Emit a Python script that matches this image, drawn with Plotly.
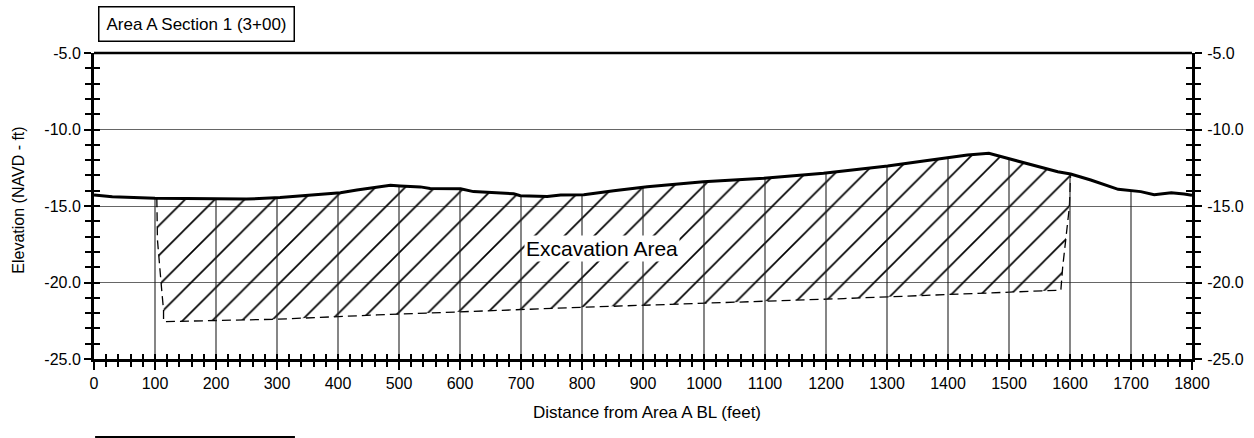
import numpy as np
import plotly.graph_objects as go

# ---------------- data ----------------
GROUND_X = [0, 30, 100, 200, 250, 305, 350, 404, 431, 486, 502, 535, 551, 601, 622, 666,
            688, 699, 743, 765, 803, 852, 907, 999, 1098, 1196, 1241, 1301, 1360, 1405,
            1432, 1467, 1492, 1524, 1580, 1601, 1634, 1679, 1700, 1716, 1738, 1766, 1787, 1800]
GROUND_Y = [-14.28, -14.40, -14.50, -14.56, -14.55, -14.45, -14.30, -14.13, -13.95, -13.65,
            -13.69, -13.75, -13.85, -13.87, -14.06, -14.13, -14.20, -14.33, -14.38, -14.28,
            -14.27, -14.00, -13.74, -13.41, -13.19, -12.86, -12.67, -12.39, -12.06, -11.82,
            -11.67, -11.56, -11.82, -12.17, -12.76, -12.91, -13.30, -13.91, -14.00, -14.06,
            -14.26, -14.13, -14.22, -14.30]

# excavation limits: left edge, bottom, right edge (top follows the ground)
EXC_EDGE_X = [103, 104, 111, 114, 114, 300, 464, 800, 1229, 1585, 1588, 1593, 1599, 1601]
EXC_EDGE_Y = [-14.50, -17.2, -20.5, -21.8, -22.56, -22.40, -22.12, -21.62, -21.05, -20.50,
              -19.0, -17.0, -15.05, -12.91]

STATION_LINES_X = [100, 200, 300, 400, 500, 600, 700, 800, 900, 1000, 1100, 1200,
                   1300, 1400, 1500, 1600, 1700]

X_TICKS = list(range(0, 1801, 100))
X_TICK_LABELS = [str(v) for v in X_TICKS]
Y_TICKS = [-25, -20, -15, -10, -5]
Y_TICK_LABELS = ["-25.0", "-20.0", "-15.0", "-10.0", "-5.0"]

X_RANGE = [0, 1800]
Y_RANGE = [-25, -5]

TITLE_TEXT = "Area A Section 1 (3+00)"
LABEL_TEXT = "Excavation Area"
LABEL_POS = (832, -17.75)
X_TITLE = "Distance from Area A BL (feet)"
Y_TITLE = "Elevation (NAVD - ft)"

FONT = "Liberation Sans, Arial, sans-serif"

# ---------------- geometry from data ----------------
gx = np.array(GROUND_X, float)
gy = np.array(GROUND_Y, float)
x_left, x_right = EXC_EDGE_X[0], EXC_EDGE_X[-1]
inner = (gx > x_left) & (gx < x_right)
top_x = np.concatenate([[x_right], gx[inner][::-1], [x_left]])
top_y = np.interp(top_x, gx, gy)
poly_x = list(EXC_EDGE_X) + list(top_x)
poly_y = list(EXC_EDGE_Y) + list(top_y)

vx, vy = [], []
for sx in STATION_LINES_X:
    vx += [sx, sx, None]
    vy += [float(np.interp(sx, gx, gy)), Y_RANGE[0], None]

fig = go.Figure()

# hatched excavation area
fig.add_trace(go.Scatter(
    x=poly_x, y=poly_y, mode="lines", fill="toself",
    line=dict(width=0, color="rgba(0,0,0,0)"),
    fillcolor="rgba(0,0,0,0)",
    fillpattern=dict(shape="/", size=21, solidity=0.08, fgcolor="black",
                     bgcolor="rgba(0,0,0,0)", fillmode="replace"),
    hoverinfo="skip", showlegend=False))

# dashed excavation boundary
fig.add_trace(go.Scatter(
    x=EXC_EDGE_X, y=EXC_EDGE_Y, mode="lines",
    line=dict(color="black", width=1.3, dash="9px,5px"),
    hoverinfo="skip", showlegend=False))

# station lines below the ground
fig.add_trace(go.Scatter(
    x=vx, y=vy, mode="lines", line=dict(color="#222", width=1.1),
    hoverinfo="skip", showlegend=False))

# ground profile
fig.add_trace(go.Scatter(
    x=GROUND_X, y=GROUND_Y, mode="lines", line=dict(color="black", width=3),
    hoverinfo="skip", showlegend=False))

# dummy traces so the overlay axes are created
for xa, ya in [("x", "y2"), ("x", "y3"), ("x", "y4"), ("x2", "y")]:
    fig.add_trace(go.Scatter(x=[], y=[], xaxis=xa, yaxis=ya, showlegend=False,
                             hoverinfo="skip"))

tickfont = dict(family=FONT, size=16, color="black")
minor_out_x = dict(tickmode="linear", tick0=0, dtick=20, ticks="outside",
                   ticklen=5, tickwidth=1.5, tickcolor="black", showgrid=False)
minor_in_x = dict(minor_out_x, ticks="inside")
minor_out_y = dict(tickmode="linear", tick0=-25, dtick=1, ticks="outside",
                   ticklen=6, tickwidth=1.5, tickcolor="black", showgrid=False)
minor_in_y = dict(minor_out_y, ticks="inside")

fig.update_layout(
    width=1254, height=438,
    margin=dict(l=94, r=62, t=53, b=79),
    paper_bgcolor="white", plot_bgcolor="white",
    showlegend=False,
    font=dict(family=FONT, color="black"),
    xaxis=dict(range=X_RANGE, tickmode="array", tickvals=X_TICKS, ticktext=X_TICK_LABELS,
               ticks="outside", ticklen=8, tickwidth=1.5, tickcolor="black",
               minor=minor_out_x, automargin=False,
               showline=True, linewidth=3, linecolor="black",
               showgrid=False, zeroline=False, tickfont=tickfont, anchor="y"),
    xaxis2=dict(range=X_RANGE, overlaying="x", side="bottom", anchor="y",
                tickmode="array", tickvals=X_TICKS, ticks="inside", ticklen=5,
                tickwidth=1.5, tickcolor="black", minor=minor_in_x, automargin=False,
                showticklabels=False, showline=False, showgrid=False, zeroline=False),
    yaxis=dict(range=Y_RANGE, tickmode="array", tickvals=Y_TICKS, ticktext=Y_TICK_LABELS,
               ticks="outside", ticklen=7, tickwidth=1.5, tickcolor="black",
               minor=minor_out_y, automargin=False,
               showline=True, linewidth=3, linecolor="black",
               showgrid=True, gridcolor="#666", gridwidth=1, zeroline=False,
               tickfont=tickfont, anchor="x"),
    yaxis3=dict(range=Y_RANGE, overlaying="y", side="left", anchor="x",
                tickmode="array", tickvals=Y_TICKS, ticks="inside", ticklen=6,
                tickwidth=1.5, tickcolor="black", minor=minor_in_y, automargin=False,
                showticklabels=False, showline=False, showgrid=False, zeroline=False),
    yaxis2=dict(range=Y_RANGE, overlaying="y", side="right", anchor="x",
                tickmode="array", tickvals=Y_TICKS, ticktext=Y_TICK_LABELS,
                ticks="outside", ticklen=7, tickwidth=1.5, tickcolor="black",
                minor=minor_out_y, automargin=False, ticklabelstandoff=2,
                showline=True, linewidth=3, linecolor="black",
                showgrid=False, zeroline=False, tickfont=tickfont),
    yaxis4=dict(range=Y_RANGE, overlaying="y", side="right", anchor="x",
                tickmode="array", tickvals=Y_TICKS, ticks="inside", ticklen=6,
                tickwidth=1.5, tickcolor="black", minor=minor_in_y, automargin=False,
                showticklabels=False, showline=False, showgrid=False, zeroline=False),
)

# top frame line
fig.add_shape(type="line", xref="paper", yref="paper", x0=0, x1=1, y0=1, y1=1,
              line=dict(color="black", width=2.5))
# partial box edge at the bottom-left
fig.add_shape(type="line", xref="paper", yref="paper", x0=0.001, x1=0.183,
              y0=-0.255, y1=-0.255, line=dict(color="black", width=2))

# section title box
fig.add_annotation(xref="paper", yref="paper", x=0.0934, y=1.095,
                   xanchor="center", yanchor="middle", text=TITLE_TEXT, showarrow=False,
                   font=dict(family=FONT, size=17, color="black"),
                   bordercolor="black", borderwidth=1.5, borderpad=7, bgcolor="white")

# excavation label
fig.add_annotation(x=LABEL_POS[0], y=LABEL_POS[1], text=LABEL_TEXT, showarrow=False,
                   font=dict(family=FONT, size=21, color="black"),
                   bgcolor="white", borderpad=1)

# axis titles
fig.add_annotation(xref="paper", yref="paper", x=0.504, y=-0.175, xanchor="center",
                   yanchor="middle", text=X_TITLE, showarrow=False,
                   font=dict(family=FONT, size=17, color="black"))
fig.add_annotation(xref="paper", yref="paper", x=-0.0685, y=0.52, xanchor="center",
                   yanchor="middle", text=Y_TITLE, textangle=-90, showarrow=False,
                   font=dict(family=FONT, size=16, color="black"))

fig.write_html("out.html", config={"displayModeBar": False},
               post_script="document.body.style.margin='0';")
